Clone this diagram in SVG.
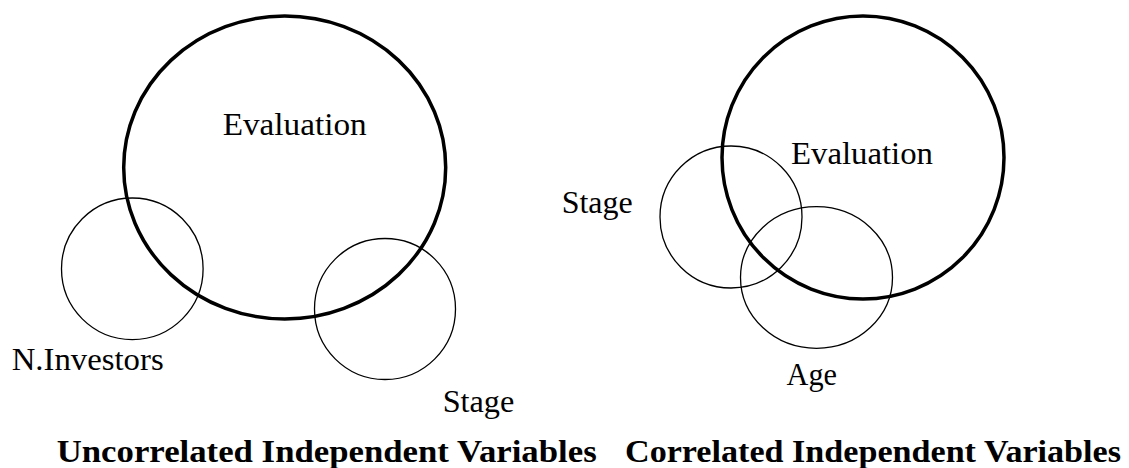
<svg xmlns="http://www.w3.org/2000/svg" width="1129" height="468" viewBox="0 0 1129 468">
<style>
.big{fill:none;stroke:#000;stroke-width:3.5}
.small{fill:none;stroke:#000;stroke-width:1.3}
.lbl{font-family:"Liberation Serif","Times New Roman",serif;font-size:31px;fill:#000}
.title{font-family:"Liberation Serif","Times New Roman",serif;font-size:31px;font-weight:bold;fill:#000}
</style>
<rect width="1129" height="468" fill="#fff"/>
<g id="left-evaluation">
<ellipse class="big" cx="284.7" cy="167.5" rx="161" ry="151.5"/>
<text class="lbl" x="222.7" y="135" textLength="144" lengthAdjust="spacingAndGlyphs">Evaluation</text>
</g>
<g id="left-ninvestors">
<circle class="small" cx="132.3" cy="268.8" r="70.8"/>
<text class="lbl" x="11.7" y="370" textLength="152" lengthAdjust="spacingAndGlyphs">N.Investors</text>
</g>
<g id="left-stage">
<ellipse class="small" cx="385" cy="309" rx="70.5" ry="70.5"/>
<text class="lbl" x="442.7" y="411.7" textLength="71.6" lengthAdjust="spacingAndGlyphs">Stage</text>
</g>
<g id="right-evaluation">
<ellipse class="big" cx="863" cy="157.5" rx="141" ry="141.5"/>
<text class="lbl" x="791" y="164" textLength="142" lengthAdjust="spacingAndGlyphs">Evaluation</text>
</g>
<g id="right-stage">
<circle class="small" cx="731" cy="217" r="71"/>
<text class="lbl" x="561.7" y="212.5" textLength="71" lengthAdjust="spacingAndGlyphs">Stage</text>
</g>
<g id="right-age">
<ellipse class="small" cx="816.5" cy="277.5" rx="76" ry="70.8"/>
<text class="lbl" x="786.5" y="385" textLength="50.5" lengthAdjust="spacingAndGlyphs">Age</text>
</g>
<g id="captions">
<text class="title" x="56.7" y="461.7" textLength="540" lengthAdjust="spacingAndGlyphs">Uncorrelated Independent Variables</text>
<text class="title" x="625" y="461.7" textLength="496" lengthAdjust="spacingAndGlyphs">Correlated Independent Variables</text>
</g>
<g id="connectors"/>
</svg>
